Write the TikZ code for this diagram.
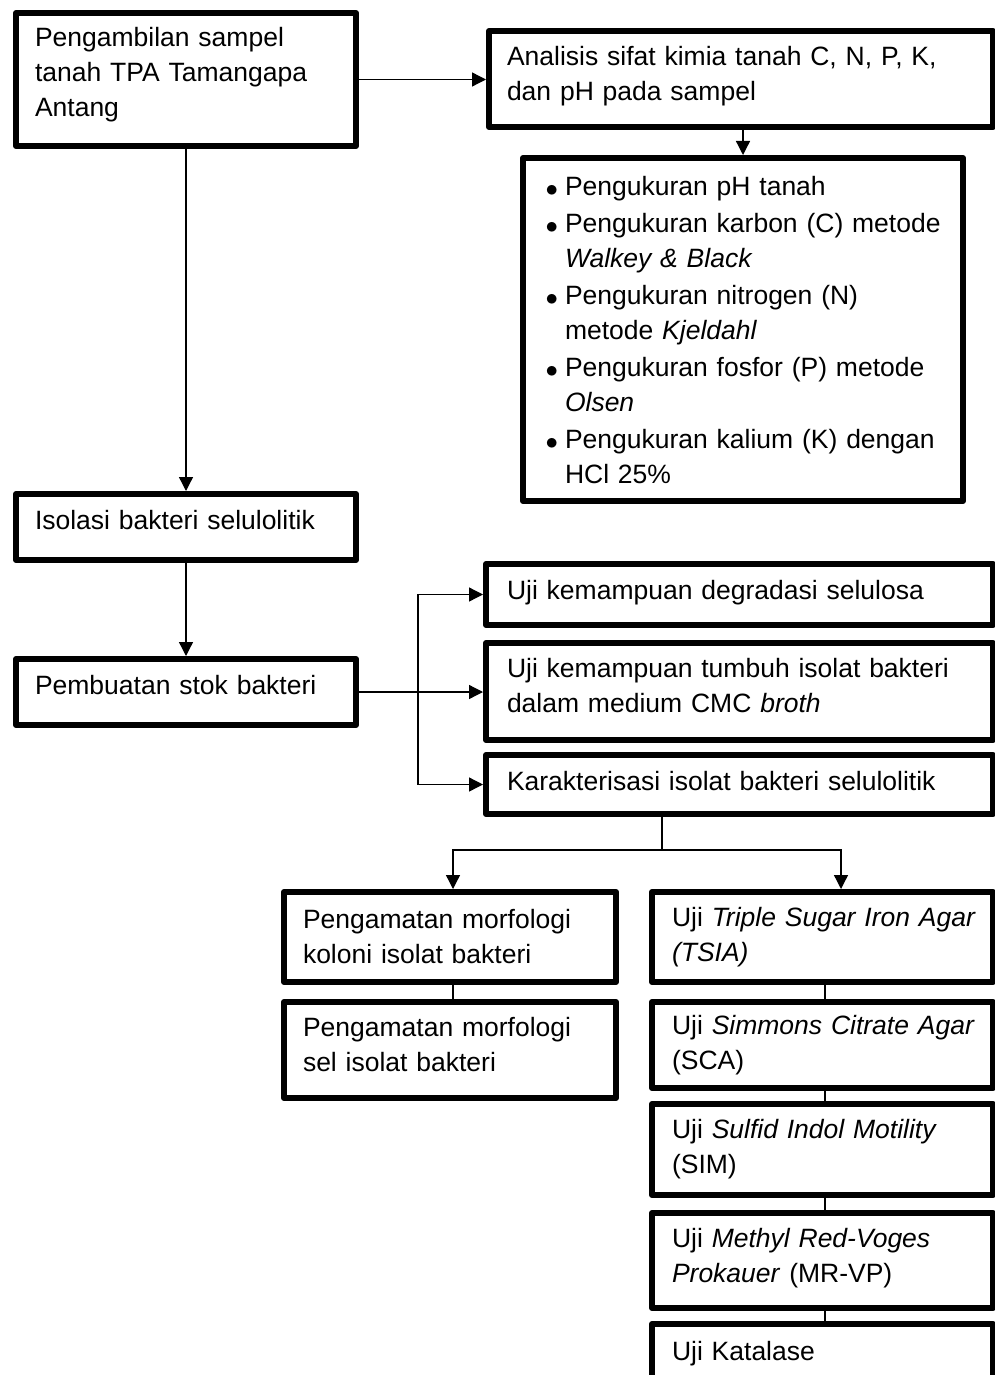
\documentclass[tikz,border=0pt]{standalone}
\usepackage{fontspec}
\setmainfont{Liberation Sans}
\usetikzlibrary{arrows.meta}
\newcommand\keep[1]{\mbox{#1}}
\newcommand\bul{\hspace*{3.5pt}\raisebox{-1.2pt}{\fontsize{34}{35}\selectfont$\bullet$}}
\tikzset{
  bx/.style={draw, line width=6pt, line join=round, inner xsep=0pt, inner ysep=0pt,
    anchor=north west, align=left, font=\fontsize{26.5}{35}\selectfont},
  ln/.style={line width=1.3pt},
  arr/.style={line width=1.3pt, -{Triangle[length=14pt,width=14pt]}}
}
\begin{document}
\begin{tikzpicture}[x=1pt,y=-1pt]
\useasboundingbox (0,0) rectangle (995,1375);
% left column
\node[bx, minimum width=340, minimum height=133, text width=302, text depth=84.6] (b1) at (13,10)
  {Pengambilan sampel\\tanah TPA Tamangapa\\Antang};
\node[bx, minimum width=340, minimum height=66, text width=302, text depth=14] (b4) at (13,491)
  {Isolasi bakteri selulolitik};
\node[bx, minimum width=340, minimum height=66, text width=302, text depth=14] (b5) at (13,656)
  {Pembuatan stok bakteri};
% top right
\node[bx, minimum width=504, minimum height=96, text width=468, text depth=46.6] (b2) at (486,28)
  {Analisis sifat kimia tanah C, N, P, K,\\dan pH pada sampel};
\node[bx, minimum width=440, minimum height=343, text width=402] (b3) at (520,155)
  {\begin{tabular}{@{}p{23pt}@{}l@{}}
   \bul & \rule{0pt}{29.5pt}Pengukuran pH tanah\\[2pt]
   \bul & Pengukuran karbon (C) metode\\
        & \textit{Walkey \& Black}\\[2pt]
   \bul & Pengukuran nitrogen (N)\\
        & metode \textit{Kjeldahl}\\[2pt]
   \bul & Pengukuran fosfor (P) metode\\
        & \textit{Olsen}\\[2pt]
   \bul & Pengukuran kalium (K) dengan\\
        & HCl 25\%
   \end{tabular}};
% middle right
\node[bx, minimum width=507, minimum height=61, text width=465, text depth=9.6] (b6) at (483,561)
  {Uji kemampuan degradasi selulosa};
\node[bx, minimum width=507, minimum height=97, text width=465, text depth=48] (b7) at (483,640)
  {Uji kemampuan tumbuh isolat bakteri\\dalam medium CMC \textit{broth}};
\node[bx, minimum width=507, minimum height=59, text width=465, text depth=8] (b8) at (483,752)
  {Karakterisasi isolat bakteri selulolitik};
% characterisation
\node[bx, minimum width=332, minimum height=90, text width=294, text depth=37] (b9) at (281,889)
  {\keep{Pengamatan morfologi}\\\keep{koloni isolat bakteri}};
\node[bx, minimum width=332, minimum height=96, text width=294, text depth=46] (b10) at (281,999)
  {\keep{Pengamatan morfologi}\\\keep{sel isolat bakteri}};
\node[bx, minimum width=341, minimum height=90, text width=301] (b11) at (649,889)
  {\keep{Uji \textit{Triple Sugar Iron Agar}}\\\keep{\textit{(TSIA)}}};
\node[bx, minimum width=341, minimum height=86, text width=301] (b12) at (649,999)
  {\keep{Uji \textit{Simmons Citrate Agar}}\\\keep{(SCA)}};
\node[bx, minimum width=341, minimum height=91, text width=301] (b13) at (649,1101)
  {\keep{Uji \textit{Sulfid Indol Motility}}\\\keep{(SIM)}};
\node[bx, minimum width=341, minimum height=95, text width=301, text depth=45.6] (b14) at (649,1210)
  {\keep{Uji \textit{Methyl Red-Voges}}\\\keep{\textit{Prokauer} (MR-VP)}};
\node[bx, minimum width=341, minimum height=59, text width=301] (b15) at (649,1321)
  {\keep{Uji Katalase}};
% connectors
\draw[arr] (b1.east) -- (b1.east -| b2.west);
\draw[arr] (b3.north |- b2.south) -- (b3.north);
\draw[arr] (b1.south) -- (b4.north);
\draw[arr] (b4.south) -- (b5.north);
\coordinate (j) at (418,689);
\draw[arr] (b5.east) -- (b5.east -| b7.west);
\draw[arr] (j) |- (b6.west);
\draw[arr] (j) |- (b8.west);
\coordinate (k) at (662,850);
\draw[ln] (b8.south -| k) -- (k);
\draw[arr] (k) -| ([xshift=3pt]b9.north);
\draw[arr] (k) -| ([xshift=18.5pt]b11.north);
\draw[ln] ([xshift=3pt]b9.south) -- ([xshift=3pt]b10.north);
\draw[ln] ([xshift=2.5pt]b11.south) -- ([xshift=2.5pt]b12.north);
\draw[ln] ([xshift=2.5pt]b12.south) -- ([xshift=2.5pt]b13.north);
\draw[ln] ([xshift=2.5pt]b13.south) -- ([xshift=2.5pt]b14.north);
\draw[ln] ([xshift=2.5pt]b14.south) -- ([xshift=2.5pt]b15.north);
\end{tikzpicture}
\end{document}
